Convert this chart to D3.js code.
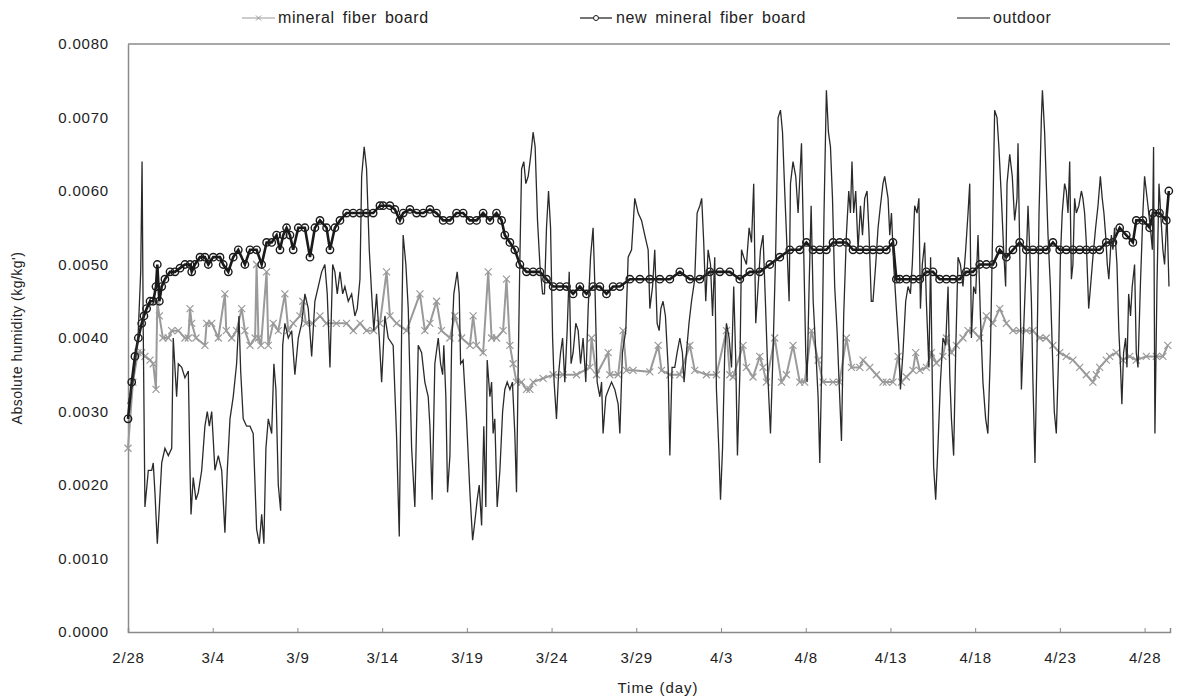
<!DOCTYPE html>
<html>
<head>
<meta charset="utf-8">
<script src="https://cdn.jsdelivr.net/npm/d3@7"></script>
<style>
  body { margin: 0; background: #fff; }
  svg text { font-family: "Liberation Sans", Arial, sans-serif; fill: #222; }
</style>
</head>
<body>
<svg id="chart" width="1177" height="698"></svg>
<script>
// tick labels, one every 5 days from 2/28
let tickDays = [0, 5, 10, 15, 20, 25, 30, 35, 40, 45, 50, 55, 60];
let tickLabels = ["2/28", "3/4", "3/9", "3/14", "3/19", "3/24", "3/29", "4/3", "4/8", "4/13", "4/18", "4/23", "4/28"];
let yTicks = [0, 0.001, 0.002, 0.003, 0.004, 0.005, 0.006, 0.007, 0.008];
let seriesNames = ["mineral fiber board", "new mineral fiber board", "outdoor"];

// [day since 2/28, absolute humidity kg/kg']
let mineral = [[0,0.0025],[0.29,0.0034],[0.59,0.0038],[0.81,0.0038],[1.0,0.00375],[1.3,0.0037],[1.49,0.00365],[1.65,0.0033],[1.73,0.0045],[1.85,0.0043],[2.06,0.0040],[2.38,0.0040],[2.58,0.0041],[2.97,0.0041],[3.36,0.0040],[3.56,0.0040],[3.66,0.0044],[3.76,0.0042],[4.01,0.0040],[4.54,0.0039],[4.64,0.0042],[4.94,0.0042],[5.33,0.0040],[5.72,0.0046],[5.8,0.0041],[6.12,0.0040],[6.41,0.0041],[6.71,0.0044],[6.9,0.0041],[7.2,0.0039],[7.5,0.0040],[7.59,0.0050],[7.7,0.0040],[7.85,0.0039],[8.18,0.0049],[8.28,0.0039],[8.57,0.0042],[8.87,0.0041],[9.26,0.0046],[9.46,0.0041],[9.75,0.0042],[10.15,0.0043],[10.32,0.0045],[10.5,0.0042],[10.9,0.0042],[11.33,0.0043],[11.7,0.0042],[12.3,0.0042],[12.9,0.0042],[13.3,0.0041],[13.7,0.0042],[14.08,0.0041],[14.5,0.0041],[14.87,0.0042],[15.26,0.0049],[15.46,0.0043],[15.85,0.0042],[16.44,0.0041],[17.23,0.0046],[17.52,0.0041],[17.82,0.0042],[18.21,0.0045],[18.5,0.0041],[19.0,0.0040],[19.29,0.0043],[19.69,0.0040],[20.18,0.0039],[20.37,0.0043],[20.57,0.0039],[20.96,0.0038],[21.26,0.0049],[21.46,0.0040],[21.75,0.0040],[22.14,0.0041],[22.34,0.0048],[22.54,0.0039],[22.73,0.00365],[22.93,0.0034],[23.23,0.0034],[23.52,0.0033],[23.72,0.0033],[23.91,0.0034],[24.5,0.00345],[25.09,0.0035],[25.68,0.0035],[26.47,0.0035],[27.26,0.0036],[27.36,0.0040],[27.65,0.0035],[28.34,0.0038],[28.44,0.0035],[28.93,0.0035],[29.22,0.0041],[29.42,0.00356],[29.81,0.00356],[30.8,0.00354],[31.29,0.0039],[31.49,0.00356],[31.98,0.0035],[32.57,0.0035],[33.16,0.0039],[33.45,0.00356],[34.14,0.0035],[34.73,0.0035],[35.32,0.0041],[35.52,0.0035],[35.71,0.00347],[36.3,0.0039],[36.5,0.0036],[36.89,0.00347],[37.29,0.00375],[37.48,0.0036],[37.68,0.0034],[38.17,0.0040],[38.57,0.0034],[38.86,0.0035],[39.25,0.0039],[39.65,0.0034],[39.94,0.0034],[40.34,0.0041],[40.73,0.0037],[41.02,0.0034],[41.61,0.0034],[42.0,0.0034],[42.4,0.0040],[42.7,0.0036],[43.19,0.0036],[43.38,0.0037],[43.78,0.0036],[44.17,0.0035],[44.56,0.0034],[44.76,0.0034],[45.15,0.0034],[45.45,0.00375],[45.65,0.0034],[45.94,0.00347],[46.33,0.00356],[46.49,0.0038],[46.73,0.00356],[47.12,0.0036],[47.42,0.0038],[47.71,0.00366],[48.1,0.00375],[48.3,0.0040],[48.6,0.0038],[48.89,0.0039],[49.28,0.0040],[49.58,0.0041],[49.87,0.0041],[50.27,0.0040],[50.66,0.0043],[51.05,0.0042],[51.45,0.0044],[51.84,0.0042],[52.23,0.0041],[52.63,0.0041],[53.02,0.0041],[53.41,0.0041],[53.81,0.0040],[54.2,0.0040],[54.59,0.0039],[54.99,0.0038],[55.38,0.00375],[55.77,0.0037],[56.17,0.0036],[56.56,0.0035],[56.95,0.0034],[57.15,0.0035],[57.35,0.0036],[57.74,0.0037],[57.94,0.00375],[58.33,0.0038],[58.72,0.0037],[59.12,0.00375],[59.51,0.0037],[60.1,0.00375],[60.69,0.00375],[61.08,0.00375],[61.37,0.0039]];

let newMineral = [[0,0.0029],[0.22,0.0034],[0.41,0.00375],[0.61,0.0040],[0.81,0.0042],[0.94,0.0043],[1.1,0.0044],[1.3,0.0045],[1.49,0.0045],[1.65,0.0047],[1.73,0.0050],[1.85,0.0045],[1.99,0.0047],[2.18,0.0048],[2.48,0.0049],[2.77,0.0049],[3.07,0.00495],[3.36,0.0050],[3.66,0.0050],[3.76,0.0049],[3.95,0.0050],[4.25,0.0051],[4.54,0.0051],[4.74,0.0050],[5.03,0.0051],[5.43,0.0051],[5.62,0.0050],[5.92,0.0049],[6.21,0.0051],[6.51,0.0052],[6.9,0.0050],[7.2,0.0052],[7.59,0.0052],[7.89,0.0050],[8.18,0.0053],[8.48,0.0053],[8.77,0.0054],[8.97,0.0052],[9.16,0.0054],[9.36,0.0055],[9.56,0.0054],[9.75,0.0052],[10.05,0.0055],[10.44,0.0055],[10.74,0.0051],[11.03,0.0055],[11.33,0.0056],[11.72,0.0055],[11.92,0.0052],[12.21,0.0055],[12.51,0.0056],[12.9,0.0057],[13.29,0.0057],[13.69,0.0057],[14.08,0.0057],[14.47,0.0057],[14.87,0.0058],[15.06,0.0058],[15.46,0.0058],[15.75,0.00575],[16.05,0.0056],[16.24,0.0057],[16.64,0.00575],[17.03,0.0057],[17.42,0.0057],[17.82,0.00575],[18.21,0.0057],[18.6,0.0056],[19.0,0.0056],[19.39,0.0057],[19.78,0.0057],[20.18,0.0056],[20.57,0.0056],[20.96,0.0057],[21.36,0.0056],[21.75,0.0057],[22.05,0.0056],[22.24,0.0054],[22.54,0.0053],[22.83,0.0052],[23.13,0.0050],[23.52,0.0049],[23.91,0.0049],[24.31,0.0049],[24.7,0.0048],[25.09,0.0047],[25.49,0.0047],[25.88,0.0047],[26.27,0.0046],[26.67,0.0047],[27.06,0.0046],[27.45,0.0047],[27.85,0.0047],[28.24,0.0046],[28.63,0.0047],[29.03,0.0047],[29.62,0.0048],[30.21,0.0048],[30.8,0.0048],[31.39,0.0048],[31.98,0.0048],[32.57,0.0049],[33.16,0.0048],[33.75,0.0048],[34.34,0.0049],[34.93,0.0049],[35.52,0.0049],[36.11,0.0048],[36.7,0.0049],[37.29,0.0049],[37.88,0.0050],[38.47,0.0051],[39.06,0.0052],[39.65,0.0052],[40.04,0.0053],[40.43,0.0052],[40.83,0.0052],[41.22,0.0052],[41.61,0.0053],[42.0,0.0053],[42.4,0.0053],[42.79,0.0052],[43.19,0.0052],[43.58,0.0052],[43.97,0.0052],[44.37,0.0052],[44.76,0.0052],[45.15,0.0053],[45.35,0.0048],[45.55,0.0048],[45.94,0.0048],[46.33,0.0048],[46.73,0.0048],[47.12,0.0049],[47.51,0.0049],[47.9,0.0048],[48.3,0.0048],[48.69,0.0048],[49.09,0.0048],[49.48,0.0049],[49.87,0.0049],[50.27,0.0050],[50.66,0.0050],[51.05,0.0050],[51.45,0.0052],[51.84,0.0051],[52.23,0.0052],[52.63,0.0053],[53.02,0.0052],[53.41,0.0052],[53.81,0.0052],[54.2,0.0052],[54.59,0.0053],[54.99,0.0052],[55.38,0.0052],[55.77,0.0052],[56.17,0.0052],[56.56,0.0052],[56.95,0.0052],[57.35,0.0052],[57.74,0.0053],[58.13,0.0053],[58.53,0.0055],[58.92,0.0054],[59.31,0.0053],[59.51,0.0056],[59.9,0.0056],[60.3,0.0055],[60.49,0.0057],[60.88,0.0057],[61.28,0.0056],[61.43,0.0060]];

let outdoor = [[0,0.0031],[0.29,0.0034],[0.59,0.0040],[0.75,0.0049],[0.83,0.0064],[0.9,0.0041],[1.0,0.0017],[1.2,0.0022],[1.4,0.0022],[1.49,0.0023],[1.59,0.0019],[1.73,0.0012],[1.85,0.0017],[1.99,0.0023],[2.18,0.0025],[2.38,0.0024],[2.58,0.0025],[2.67,0.0040],[2.87,0.0032],[2.97,0.00365],[3.17,0.0036],[3.36,0.00346],[3.56,0.00355],[3.66,0.0022],[3.72,0.0016],[3.85,0.0021],[4.01,0.0018],[4.15,0.0019],[4.35,0.0022],[4.54,0.0028],[4.68,0.0030],[4.8,0.0028],[4.94,0.0030],[5.13,0.0022],[5.33,0.0024],[5.53,0.0022],[5.72,0.00135],[5.86,0.0022],[6.02,0.0029],[6.21,0.0032],[6.41,0.00365],[6.55,0.0043],[6.65,0.00355],[6.8,0.0029],[7.0,0.0028],[7.2,0.0028],[7.39,0.0027],[7.59,0.0014],[7.75,0.0012],[7.89,0.0016],[8.02,0.0012],[8.14,0.0025],[8.28,0.0029],[8.48,0.0027],[8.61,0.00365],[8.73,0.0033],[8.87,0.0020],[9.01,0.00165],[9.13,0.0039],[9.26,0.0042],[9.46,0.0040],[9.66,0.0041],[9.85,0.0035],[10.05,0.0040],[10.25,0.0042],[10.44,0.0046],[10.64,0.0044],[10.84,0.00375],[11.03,0.0045],[11.23,0.0047],[11.43,0.0049],[11.62,0.0050],[11.76,0.0046],[11.92,0.0036],[12.08,0.0050],[12.21,0.0049],[12.35,0.0046],[12.51,0.0049],[12.67,0.0046],[12.8,0.0047],[13.0,0.0045],[13.2,0.0046],[13.39,0.0043],[13.53,0.0044],[13.69,0.0048],[13.79,0.0062],[13.94,0.0066],[14.08,0.0063],[14.24,0.0052],[14.38,0.0046],[14.51,0.0041],[14.67,0.0046],[14.83,0.0040],[14.97,0.0034],[15.16,0.0043],[15.36,0.0040],[15.65,0.0039],[15.85,0.00267],[16.01,0.0013],[16.15,0.0041],[16.24,0.0054],[16.4,0.0050],[16.54,0.0044],[16.74,0.0025],[16.93,0.0017],[17.13,0.0039],[17.33,0.0038],[17.52,0.0034],[17.72,0.0032],[17.82,0.0028],[17.95,0.0018],[18.11,0.00365],[18.31,0.0040],[18.45,0.00365],[18.57,0.0035],[18.64,0.0039],[18.76,0.0032],[18.86,0.0019],[19.0,0.0024],[19.1,0.0039],[19.23,0.0046],[19.43,0.0049],[19.55,0.0046],[19.63,0.00365],[19.78,0.0037],[19.98,0.0029],[20.18,0.0019],[20.34,0.00125],[20.47,0.0015],[20.61,0.0018],[20.73,0.0020],[20.87,0.00145],[21.0,0.0028],[21.12,0.0017],[21.2,0.0037],[21.36,0.0032],[21.46,0.0034],[21.55,0.0027],[21.65,0.0029],[21.79,0.0017],[21.95,0.0022],[22.11,0.0030],[22.24,0.0033],[22.38,0.0034],[22.54,0.0033],[22.69,0.0034],[22.83,0.0027],[22.93,0.0019],[23.03,0.0036],[23.13,0.0051],[23.23,0.0063],[23.36,0.0064],[23.48,0.0061],[23.62,0.0062],[23.78,0.0065],[23.91,0.0068],[24.03,0.0066],[24.17,0.0056],[24.31,0.0050],[24.47,0.0046],[24.58,0.0046],[24.7,0.0055],[24.82,0.0060],[24.94,0.0055],[25.06,0.0040],[25.15,0.0034],[25.29,0.0029],[25.41,0.0035],[25.53,0.0038],[25.65,0.0040],[25.78,0.0034],[25.92,0.0041],[26.04,0.0049],[26.15,0.00365],[26.27,0.0038],[26.43,0.0042],[26.57,0.0041],[26.71,0.00365],[26.86,0.0040],[27.02,0.0034],[27.16,0.0044],[27.3,0.0051],[27.45,0.0055],[27.57,0.0046],[27.69,0.0034],[27.85,0.0032],[27.95,0.0034],[28.04,0.0027],[28.2,0.0032],[28.36,0.0033],[28.54,0.0034],[28.73,0.0033],[28.93,0.0031],[29.03,0.0027],[29.18,0.0038],[29.38,0.0041],[29.52,0.0051],[29.72,0.0052],[29.91,0.0059],[30.11,0.0057],[30.31,0.0056],[30.5,0.0054],[30.7,0.0052],[30.8,0.0044],[30.96,0.0047],[31.09,0.0052],[31.23,0.0042],[31.35,0.0041],[31.45,0.0044],[31.58,0.0045],[31.72,0.0043],[31.88,0.0036],[31.98,0.0024],[32.11,0.0036],[32.27,0.0036],[32.41,0.0038],[32.57,0.0040],[32.72,0.0038],[32.82,0.0034],[32.96,0.0038],[33.11,0.0042],[33.26,0.0045],[33.45,0.0048],[33.59,0.0057],[33.75,0.0058],[33.86,0.0059],[33.98,0.0053],[34.1,0.0045],[34.24,0.0052],[34.38,0.0050],[34.5,0.0043],[34.63,0.0051],[34.73,0.0033],[34.87,0.0025],[34.97,0.0018],[35.09,0.0025],[35.22,0.0038],[35.32,0.0042],[35.48,0.0040],[35.62,0.0036],[35.75,0.0047],[35.87,0.0037],[35.97,0.0024],[36.11,0.0035],[36.21,0.0052],[36.34,0.0051],[36.5,0.0050],[36.66,0.0055],[36.8,0.0053],[36.93,0.0061],[37.05,0.0042],[37.19,0.0047],[37.33,0.0052],[37.48,0.0054],[37.62,0.0045],[37.78,0.0034],[37.92,0.0027],[38.07,0.0038],[38.23,0.0052],[38.37,0.0070],[38.51,0.0071],[38.63,0.0068],[38.76,0.0060],[38.9,0.0052],[39.02,0.0045],[39.1,0.0061],[39.25,0.0064],[39.41,0.0062],[39.55,0.0057],[39.75,0.00665],[39.88,0.0052],[40.0,0.0038],[40.08,0.0034],[40.2,0.0047],[40.32,0.0058],[40.44,0.0045],[40.6,0.0038],[40.73,0.0032],[40.83,0.0023],[40.96,0.0038],[41.08,0.0057],[41.22,0.00737],[41.34,0.0068],[41.46,0.0066],[41.58,0.0059],[41.71,0.0047],[41.85,0.0041],[41.97,0.0034],[42.11,0.0026],[42.24,0.0043],[42.4,0.0054],[42.54,0.0060],[42.64,0.0057],[42.73,0.0064],[42.83,0.0057],[42.95,0.0060],[43.09,0.0052],[43.23,0.0058],[43.35,0.0054],[43.48,0.0059],[43.62,0.0060],[43.74,0.0054],[43.87,0.0045],[43.97,0.0045],[44.13,0.0050],[44.27,0.0055],[44.41,0.0058],[44.56,0.0061],[44.66,0.0062],[44.86,0.0059],[44.96,0.0054],[45.06,0.0057],[45.19,0.0050],[45.35,0.0044],[45.49,0.0039],[45.59,0.0033],[45.74,0.0038],[45.9,0.0045],[46.04,0.0047],[46.18,0.0046],[46.29,0.0050],[46.43,0.0058],[46.57,0.0057],[46.68,0.0059],[46.77,0.0044],[46.88,0.0050],[47.02,0.0053],[47.12,0.0045],[47.27,0.0036],[47.37,0.0051],[47.47,0.0034],[47.55,0.00225],[47.67,0.0018],[47.8,0.0025],[47.95,0.0034],[48.1,0.0040],[48.26,0.0039],[48.4,0.0047],[48.5,0.0035],[48.6,0.0029],[48.73,0.0024],[48.85,0.0038],[48.99,0.0051],[49.13,0.0050],[49.28,0.0047],[49.44,0.0052],[49.58,0.0057],[49.68,0.0061],[49.78,0.0040],[49.91,0.0047],[50.03,0.0046],[50.17,0.0054],[50.31,0.0043],[50.46,0.0034],[50.62,0.0029],[50.75,0.0027],[50.9,0.0038],[51.01,0.0052],[51.15,0.0071],[51.29,0.0070],[51.4,0.0066],[51.55,0.0059],[51.68,0.0052],[51.8,0.0047],[51.88,0.0061],[52.04,0.0065],[52.19,0.0062],[52.33,0.0056],[52.47,0.0059],[52.53,0.00665],[52.63,0.0052],[52.73,0.0033],[52.86,0.0041],[53.02,0.0051],[53.12,0.0058],[53.22,0.0052],[53.32,0.0045],[53.41,0.0034],[53.53,0.0023],[53.65,0.0038],[53.77,0.0057],[53.91,0.0070],[53.97,0.00737],[54.1,0.0068],[54.2,0.0061],[54.3,0.0054],[54.44,0.0047],[54.56,0.0038],[54.67,0.0030],[54.79,0.0027],[54.93,0.0038],[55.03,0.0051],[55.14,0.0057],[55.28,0.0061],[55.38,0.0060],[55.48,0.0057],[55.58,0.0064],[55.68,0.0048],[55.77,0.0050],[55.87,0.0059],[55.97,0.0057],[56.12,0.0058],[56.27,0.0060],[56.36,0.0059],[56.46,0.0057],[56.56,0.0053],[56.7,0.0044],[56.81,0.0047],[56.95,0.0051],[57.11,0.0055],[57.25,0.0058],[57.39,0.0062],[57.5,0.0059],[57.6,0.0057],[57.7,0.0054],[57.8,0.0050],[57.89,0.0048],[58.04,0.0054],[58.13,0.0052],[58.23,0.0055],[58.37,0.0050],[58.48,0.0041],[58.58,0.0036],[58.66,0.0031],[58.76,0.0038],[58.88,0.0040],[58.96,0.0036],[59.06,0.0046],[59.17,0.0043],[59.27,0.0047],[59.41,0.0050],[59.51,0.0038],[59.61,0.0036],[59.75,0.0047],[59.9,0.0057],[60.0,0.0062],[60.1,0.0060],[60.2,0.0058],[60.34,0.0055],[60.46,0.0052],[60.53,0.0066],[60.61,0.0027],[60.73,0.0047],[60.85,0.0061],[60.95,0.0057],[61.08,0.0052],[61.18,0.0050],[61.32,0.0057],[61.44,0.0047]];

let svg = d3.select("#chart");
let plotLeft = 128, plotRight = 1170, plotTop = 44, plotBottom = 632;
let axisColor = "#8a8a8a";
let grayColor = "#9a9a9a";
let darkColor = "#1a1a1a";

let x = d3.scaleLinear().domain([0, 61.5]).range([plotLeft, plotRight]);
let y = d3.scaleLinear().domain([0, 0.008]).range([plotBottom, plotTop]);

// top frame line
svg.append("line")
  .attr("x1", plotLeft).attr("x2", plotRight)
  .attr("y1", plotTop).attr("y2", plotTop)
  .attr("stroke", axisColor).attr("stroke-width", 1.5);

// x axis, ticks pointing up into the plot
let xAxis = svg.append("g")
  .attr("transform", "translate(0," + plotBottom + ")")
  .call(d3.axisBottom(x)
    .tickValues(tickDays)
    .tickSize(-4)
    .tickPadding(20)
    .tickFormat((d, i) => tickLabels[i]));
xAxis.select(".domain").attr("stroke", axisColor).attr("stroke-width", 1.5);
xAxis.selectAll(".tick line").attr("stroke", axisColor);
xAxis.selectAll("text")
  .style("font-size", "15px")
  .style("letter-spacing", "0.8px")
  .attr("fill", "#222");

// y axis
let yAxis = svg.append("g")
  .attr("transform", "translate(" + plotLeft + ",0)")
  .call(d3.axisLeft(y)
    .tickValues(yTicks)
    .tickSize(0)
    .tickPadding(19)
    .tickFormat(d3.format(".4f")));
yAxis.select(".domain").attr("stroke", axisColor).attr("stroke-width", 1.5);
yAxis.selectAll("text")
  .style("font-size", "15px")
  .style("letter-spacing", "0.8px")
  .attr("fill", "#222");

// axis titles
svg.append("text")
  .attr("x", 658).attr("y", 693)
  .attr("text-anchor", "middle")
  .style("font-size", "15px")
  .style("letter-spacing", "1px")
  .text("Time (day)");

svg.append("text")
  .attr("transform", "translate(22," + 338 + ") rotate(-90)")
  .attr("text-anchor", "middle")
  .style("font-size", "14px")
  .style("letter-spacing", "0.5px")
  .text("Absolute humidity (kg/kg')");

let line = d3.line().x(d => x(d[0])).y(d => y(d[1]));
let crossPath = "M-3.5,-3.5L3.5,3.5M-3.5,3.5L3.5,-3.5";

// mineral fiber board
svg.append("path")
  .datum(mineral)
  .attr("d", line)
  .attr("fill", "none")
  .attr("stroke", grayColor)
  .attr("stroke-width", 2);
svg.selectAll(".mineralMark")
  .data(mineral)
  .enter()
  .append("path")
  .attr("class", "mineralMark")
  .attr("d", crossPath)
  .attr("transform", d => "translate(" + x(d[0]) + "," + y(d[1]) + ")")
  .attr("stroke", grayColor)
  .attr("stroke-width", 1.2);

// new mineral fiber board
svg.append("path")
  .datum(newMineral)
  .attr("d", line)
  .attr("fill", "none")
  .attr("stroke", darkColor)
  .attr("stroke-width", 2.6);
svg.selectAll(".newMark")
  .data(newMineral)
  .enter()
  .append("circle")
  .attr("class", "newMark")
  .attr("cx", d => x(d[0]))
  .attr("cy", d => y(d[1]))
  .attr("r", 3.7)
  .attr("fill", "none")
  .attr("stroke", darkColor)
  .attr("stroke-width", 1.4);

// outdoor
svg.append("path")
  .datum(outdoor)
  .attr("d", line)
  .attr("fill", "none")
  .attr("stroke", "#2a2a2a")
  .attr("stroke-width", 1.3);

// legend
let legendItems = [
  {name: seriesNames[0], x1: 242, x2: 275, tx: 278, color: grayColor, mark: "cross"},
  {name: seriesNames[1], x1: 580, x2: 612, tx: 616, color: darkColor, mark: "circle"},
  {name: seriesNames[2], x1: 957, x2: 990, tx: 993, color: darkColor, mark: "none"}
];
let legend = svg.append("g");
legendItems.forEach(function(d) {
  legend.append("line")
    .attr("x1", d.x1).attr("x2", d.x2)
    .attr("y1", 18).attr("y2", 18)
    .attr("stroke", d.color).attr("stroke-width", 1.2);
  let cx = (d.x1 + d.x2) / 2;
  if (d.mark == "cross") {
    legend.append("path")
      .attr("d", "M-2.5,-2.5L2.5,2.5M-2.5,2.5L2.5,-2.5")
      .attr("transform", "translate(" + cx + ",18)")
      .attr("stroke", d.color);
  } else if (d.mark == "circle") {
    legend.append("circle")
      .attr("cx", cx).attr("cy", 18).attr("r", 2.5)
      .attr("fill", "#fff").attr("stroke", d.color);
  }
  legend.append("text")
    .attr("x", d.tx).attr("y", 23)
    .style("font-size", "16px")
    .style("letter-spacing", "0.6px")
    .style("word-spacing", "3px")
    .text(d.name);
});
</script>
</body>
</html>
